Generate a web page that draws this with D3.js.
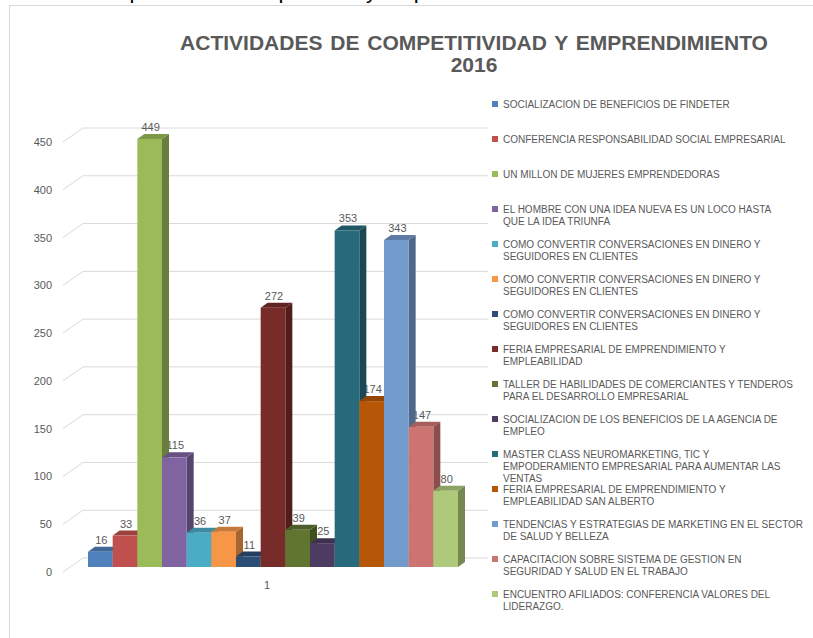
<!DOCTYPE html>
<html lang="es">
<head>
<meta charset="utf-8">
<title>Actividades de competitividad y emprendimiento 2016</title>
<script src="https://cdn.jsdelivr.net/npm/d3@7"></script>
<style>
  body { margin: 0; background: #fff; }
  .axis text, .vlabel, .cat { font-family: "Liberation Sans", Arial, sans-serif; font-size: 11px; fill: #595959; }
  .legend text { font-family: "Liberation Sans Narrow", "Arial Narrow", "Liberation Sans", sans-serif; font-size: 10px; fill: #595959; }
  .title { font-family: "Liberation Sans", Arial, sans-serif; font-weight: bold; font-size: 21px; fill: #595959; }
</style>
</head>
<body>
<script>
// datos
var categories = ["1"];
var activities = [
  "SOCIALIZACION DE BENEFICIOS DE FINDETER",
  "CONFERENCIA RESPONSABILIDAD SOCIAL EMPRESARIAL",
  "UN MILLON DE MUJERES EMPRENDEDORAS",
  "EL HOMBRE CON UNA IDEA NUEVA ES UN LOCO HASTA\nQUE LA IDEA TRIUNFA",
  "COMO CONVERTIR CONVERSACIONES EN DINERO Y\nSEGUIDORES EN CLIENTES",
  "COMO CONVERTIR CONVERSACIONES EN DINERO Y\nSEGUIDORES EN CLIENTES",
  "COMO CONVERTIR CONVERSACIONES EN DINERO Y\nSEGUIDORES EN CLIENTES",
  "FERIA EMPRESARIAL DE EMPRENDIMIENTO Y\nEMPLEABILIDAD",
  "TALLER DE HABILIDADES DE COMERCIANTES Y TENDEROS\nPARA EL DESARROLLO EMPRESARIAL",
  "SOCIALIZACION DE LOS BENEFICIOS DE LA AGENCIA DE\nEMPLEO",
  "MASTER CLASS NEUROMARKETING, TIC Y\nEMPODERAMIENTO EMPRESARIAL PARA AUMENTAR LAS\nVENTAS",
  "FERIA EMPRESARIAL DE EMPRENDIMIENTO Y\nEMPLEABILIDAD SAN ALBERTO",
  "TENDENCIAS Y ESTRATEGIAS DE MARKETING EN EL SECTOR\nDE SALUD Y BELLEZA",
  "CAPACITACION SOBRE SISTEMA DE GESTION EN\nSEGURIDAD Y SALUD EN EL TRABAJO",
  "ENCUENTRO AFILIADOS: CONFERENCIA VALORES DEL\nLIDERAZGO."
];
var values = [16, 33, 449, 115, 36, 37, 11, 272, 39, 25, 353, 174, 343, 147, 80];
var colors = ["#4f81bd", "#c0504d", "#9bbb59", "#8064a2", "#4bacc6", "#f79646", "#2c4d75",
              "#772c2a", "#5f7530", "#4d3b62", "#276a7c", "#b65708", "#729aca", "#cd7371", "#afc97a"];
var yTicks = [0, 50, 100, 150, 200, 250, 300, 350, 400, 450];
var titleLines = ["ACTIVIDADES DE COMPETITIVIDAD Y EMPRENDIMIENTO", "2016"];

var width = 813, height = 638;
var depth = {x: 20, y: -14};     // profundidad del muro de fondo
var barDepth = {x: 7, y: -5};    // profundidad de cada barra

var svg = d3.select("body").append("svg")
  .attr("width", width)
  .attr("height", height);

// texto del documento cortado arriba (solo asoman los trazos inferiores)
svg.append("text")
  .attr("y", -2)
  .style("font-family", "Liberation Sans, Arial, sans-serif")
  .style("font-size", "22px")
  .style("fill", "#000")
  .selectAll("tspan")
  .data([["competitividad", 88], ["empresarial", 248], ["y emprendimiento", 366]])
  .enter().append("tspan")
  .attr("x", function(d) { return d[1]; })
  .text(function(d) { return d[0]; });

// marco del grafico
svg.append("rect")
  .attr("x", 9.5).attr("y", 5.5)
  .attr("width", width).attr("height", height)
  .attr("fill", "#fff")
  .attr("stroke", "#d9d9d9");

// titulo
svg.append("text")
  .attr("class", "title")
  .attr("text-anchor", "middle")
  .style("word-spacing", "2px")
  .selectAll("tspan")
  .data(titleLines)
  .enter().append("tspan")
  .attr("x", 474)
  .attr("y", function(d, i) { return 50 + i * 22; })
  .text(function(d) { return d; });

// escalas
var yBack = d3.scaleLinear().domain([0, 450]).range([558, 128]);
var yBar = d3.scaleLinear().domain([0, 450]).range([567, 138]);
var xBand = d3.scaleBand().domain(d3.range(values.length)).range([88, 458]).padding(0);

// lineas de division
var grid = svg.append("g").attr("stroke", "#d9d9d9").attr("fill", "none");
grid.selectAll("path")
  .data(yTicks)
  .enter().append("path")
  .attr("d", function(d) {
    var yb = yBack(d);
    return "M63," + (yb - depth.y) + "L" + (63 + depth.x) + "," + yb + "H488";
  });

// eje y
var yAxis = d3.axisLeft(d3.scaleLinear().domain([0, 450]).range([558 - depth.y, 128 - depth.y]))
  .tickValues(yTicks)
  .tickSize(0)
  .tickPadding(11);
svg.append("g")
  .attr("class", "axis")
  .attr("transform", "translate(63,0)")
  .call(yAxis)
  .call(function(g) { g.select(".domain").remove(); });

// categoria
svg.append("text")
  .attr("class", "cat")
  .attr("text-anchor", "middle")
  .attr("x", 267)
  .attr("y", 589)
  .text(categories[0]);

// etiquetas de valores (detras de las barras)
svg.append("g").selectAll("text")
  .data(values)
  .enter().append("text")
  .attr("class", "vlabel")
  .attr("text-anchor", "middle")
  .attr("x", function(d, i) { return xBand(i) + xBand.bandwidth() / 2 + 1; })
  .attr("y", function(d) { return yBar(d) - 8; })
  .text(function(d) { return d; });

// barras 3d
var bars = svg.append("g").selectAll("g")
  .data(values)
  .enter().append("g");

bars.append("path")   // cara lateral
  .attr("fill", function(d, i) { return d3.color(colors[i]).darker(1.1); })
  .attr("d", function(d, i) {
    var x1 = xBand(i) + xBand.bandwidth(), y0 = yBar(0), y1 = yBar(d);
    return "M" + x1 + "," + y0 + "L" + x1 + "," + y1 +
      "L" + (x1 + barDepth.x) + "," + (y1 + barDepth.y) +
      "L" + (x1 + barDepth.x) + "," + (y0 + barDepth.y) + "Z";
  });

bars.append("path")   // cara superior
  .attr("fill", function(d, i) { return d3.color(colors[i]).darker(0.6); })
  .attr("d", function(d, i) {
    var x0 = xBand(i), x1 = x0 + xBand.bandwidth(), y1 = yBar(d);
    return "M" + x0 + "," + y1 + "L" + (x0 + barDepth.x) + "," + (y1 + barDepth.y) +
      "L" + (x1 + barDepth.x) + "," + (y1 + barDepth.y) + "L" + x1 + "," + y1 + "Z";
  });

bars.append("rect")   // cara frontal
  .attr("x", function(d, i) { return xBand(i); })
  .attr("y", function(d) { return yBar(d); })
  .attr("width", xBand.bandwidth())
  .attr("height", function(d) { return yBar(0) - yBar(d); })
  .attr("fill", function(d, i) { return colors[i]; });

// leyenda
var legend = svg.append("g").attr("class", "legend");
var items = legend.selectAll("g")
  .data(activities)
  .enter().append("g")
  .attr("transform", function(d, i) { return "translate(492," + (104 + i * 35) + ")"; });

items.append("rect")
  .attr("x", 0).attr("y", -3)
  .attr("width", 6).attr("height", 6)
  .attr("fill", function(d, i) { return colors[i]; });

items.append("text")
  .selectAll("tspan")
  .data(function(d) { return d.split("\n"); })
  .enter().append("tspan")
  .attr("x", 11)
  .attr("y", function(d, i) { return 3.5 + i * 12; })
  .text(function(d) { return d; });
</script>
</body>
</html>
